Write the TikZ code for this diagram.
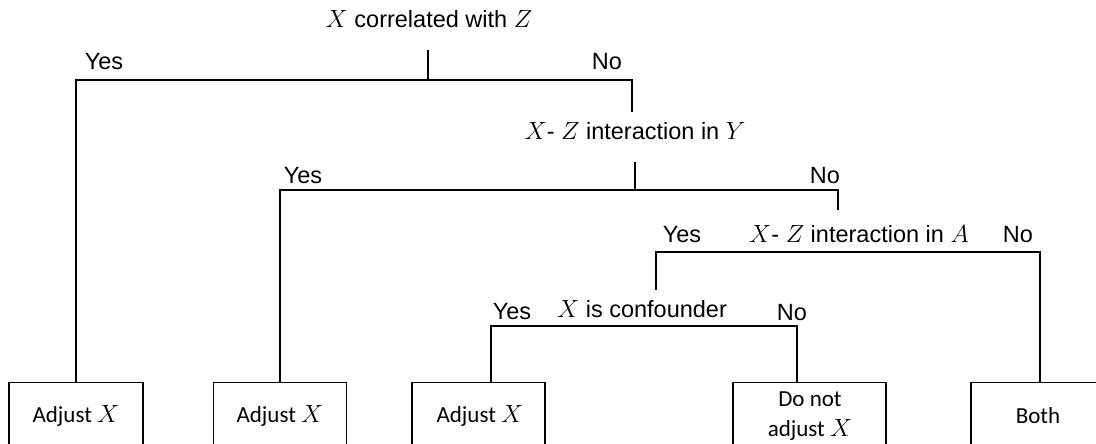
\documentclass[tikz,border=0pt]{standalone}
\usepackage{fontspec}
\setmainfont{Liberation Sans}
\newfontfamily\boxfont{Carlito}
\begin{document}
\begin{tikzpicture}[x=1pt,y=-1pt,
  lbl/.style={font=\fontsize{23.5}{28}\selectfont, inner sep=0pt, anchor=center},
  leaftext/.style={font=\boxfont\fontsize{23}{30}\selectfont, align=center},
  leaf/.style={draw, line width=1.1pt, anchor=north, minimum height=80pt, inner sep=0pt},
  conn/.style={line width=1.1pt}]
\clip (0,0) rectangle (1096,444);
\fill[white] (0,0) rectangle (1096,444);
% questions
\node[lbl] (q1) at (429,19) {$X$ correlated with $Z$};
\node[lbl] (q2) at (635,131) {$X$- $Z$ interaction in $Y$};
\node[lbl] (q3) at (859,234) {$X$- $Z$ interaction in $A$};
\node[lbl] (q4) at (642,309) {$X$ is confounder};
% answers
\node[lbl] (y1) at (104,62) {Yes};
\node[lbl] (n1) at (607,62) {No};
\node[lbl] (y2) at (303,176) {Yes};
\node[lbl] (n2) at (825,176) {No};
\node[lbl] (y3) at (682,235) {Yes};
\node[lbl] (n3) at (1018,235) {No};
\node[lbl] (y4) at (512,312) {Yes};
\node[lbl] (n4) at (792,313) {No};
% leaves
\node[leaf, minimum width=134pt] (b1) at (76,382) {};
\node[leaf, minimum width=133pt] (b2) at (280,382) {};
\node[leaf, minimum width=133pt] (b3) at (478.5,382) {};
\node[leaf, minimum width=153pt] (b4) at (809.5,382) {};
\node[leaf, minimum width=134pt] (b5) at (1038,382) {};
\node[leaftext] (t1) at (76,416) {Adjust $X$};
\node[leaftext] (t2) at (280,416) {Adjust $X$};
\node[leaftext] (t3) at (480,416) {Adjust $X$};
\node[leaftext] (t4) at (810,416) {Do not\\adjust $X$};
\node[leaftext] (t5) at (1038,416) {Both};
% branch points
\coordinate (s1) at (428,50);
\coordinate (j1) at (428,80);
\coordinate (e1) at (632,112);
\coordinate (s2) at (635,162);
\coordinate (j2) at (635,190);
\coordinate (e2) at (838,210);
\coordinate (j3) at (656,252);
\coordinate (r3) at (1040,252);
\coordinate (e3) at (656,290);
\coordinate (l4) at (491,326);
\coordinate (r4) at (797,326);
% connectors
\draw[conn] (s1) -- (j1);
\draw[conn] (b1.north) |- (j1) -| (e1);
\draw[conn] (s2) -- (j2);
\draw[conn] (b2.north) |- (j2) -| (e2);
\draw[conn] (e3) -- (j3) -- (r3) -- (r3 |- b5.north);
\draw[conn] (l4 |- b3.north) -- (l4) -- (r4) -- (r4 |- b4.north);
\end{tikzpicture}
\end{document}
